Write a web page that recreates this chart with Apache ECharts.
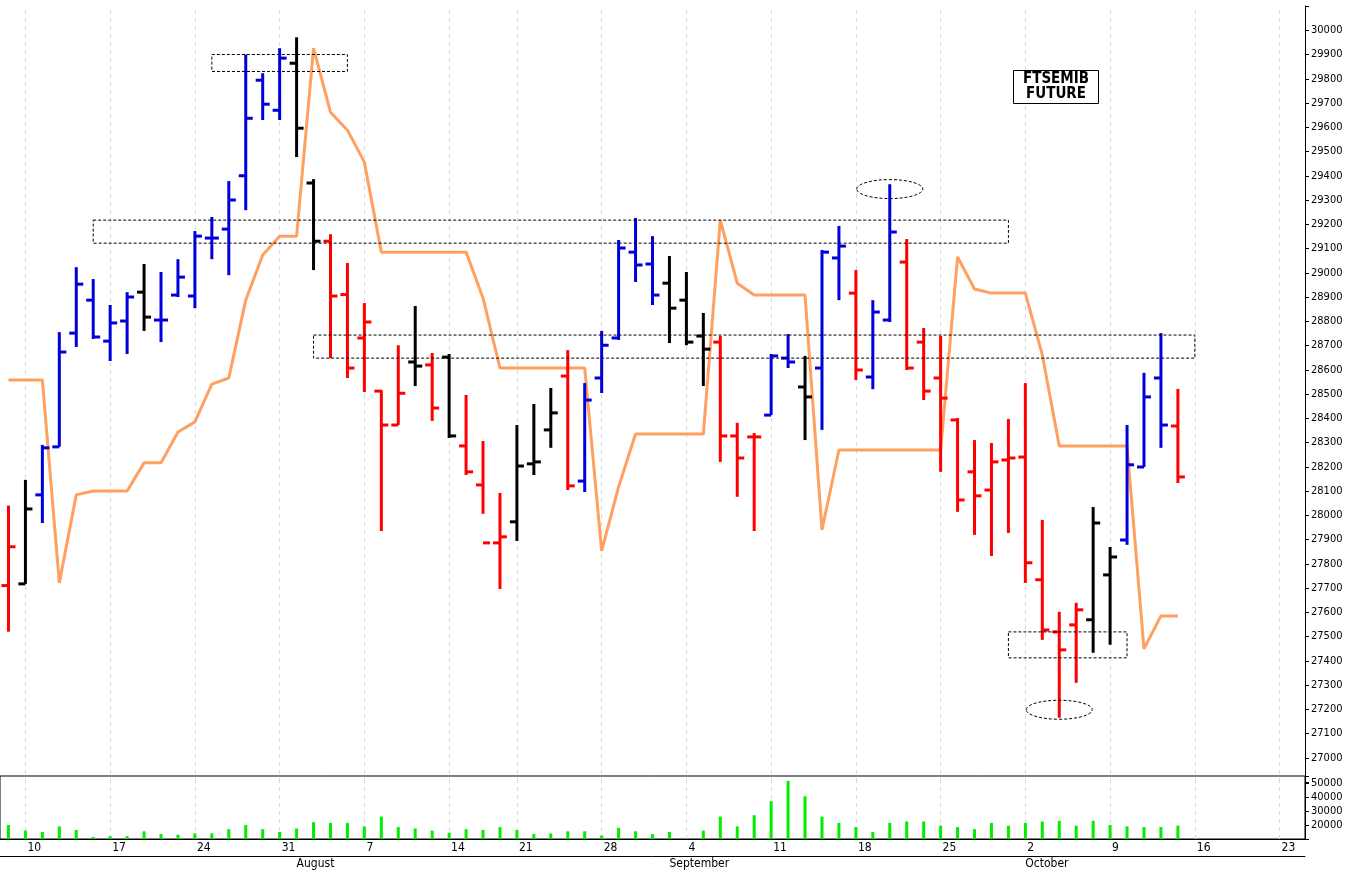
<!DOCTYPE html>
<html><head><meta charset="utf-8">
<script src="https://cdn.jsdelivr.net/npm/echarts@6/dist/echarts.min.js"></script>
<style>html,body{margin:0;padding:0;background:#fff}#c{width:1352px;height:870px}</style>
</head><body><div id="c"></div>
<script>
// trading days Jul 7 2023 .. Oct 24 2023 (Aug 15 closed)
const dates = [];
(function(){ let d = new Date(Date.UTC(2023,6,7)); const end = new Date(Date.UTC(2023,9,24));
  while (d <= end) { const w = d.getUTCDay(); const s = d.toISOString().slice(0,10);
    if (w !== 0 && w !== 6 && s !== '2023-08-15') dates.push(s); d = new Date(d.getTime()+86400000); } })();

const open  = [27710,27717,28084,28282,28751,28887,28718,28801,28920,28805,28908,28904,29143,29180,29400,29794,29670,29864,29370,29130,28910,28731,28512,28372,28632,28620,28652,28286,28125,27886,27973,28212,28352,28574,28141,28566,28731,29085,29036,28957,28887,28739,28714,28327,28323,28413,28648,28529,28607,29061,28916,28570,28805,29044,28714,28566,28393,28179,28104,28228,28240,27734,27519,27548,27569,27754,27898,28199,28566,28368];
const high  = [28040,28146,28290,28755,29023,28974,28867,28920,29036,29003,29056,29172,29230,29378,29900,29823,29926,29971,29386,29159,29040,28875,28516,28701,28863,28669,28665,28496,28306,28092,28372,28459,28525,28681,28545,28760,29135,29226,29151,29069,29003,28834,28739,28381,28339,28665,28747,28657,29094,29193,29011,28887,29365,29139,28772,28739,28401,28310,28298,28397,28545,27981,27602,27639,28034,27869,28372,28587,28751,28521];
const low   = [27520,27717,27968,28282,28694,28727,28636,28665,28760,28714,28900,28854,29056,28990,29258,29630,29630,29477,29011,28648,28566,28508,27935,28372,28533,28389,28319,28166,28006,27696,27894,28166,28278,28104,28096,28504,28723,28962,28867,28710,28701,28533,28220,28076,27935,28413,28607,28310,28352,28887,28558,28520,28797,28599,28475,28179,28014,27919,27832,27927,27721,27486,27165,27309,27433,27466,27878,28199,28278,28133];
const close = [27870,28026,28278,28673,28953,28735,28793,28900,28817,28805,28982,29151,29143,29300,29637,29695,29885,29596,29130,28904,28607,28797,28372,28503,28615,28442,28327,28179,27886,27911,28203,28220,28422,28121,28475,28701,29102,29032,28908,28854,28714,28685,28327,28236,28323,28657,28632,28488,29085,29110,28599,28838,29168,28607,28512,28483,28063,28080,28220,28236,27804,27527,27445,27610,27968,27828,28208,28488,28372,28158];
const barColor = ['r','k','b','b','b','b','b','b','k','b','b','b','b','b','b','b','b','k','k','r','r','r','r','r','k','r','k','r','r','r','k','k','k','r','b','b','b','b','b','k','k','k','r','r','r','b','b','k','b','b','r','b','b','r','r','r','r','r','r','r','r','r','r','r','k','k','b','b','b','r'];
const trendLine = [28558,28558,28558,27721,28084,28100,28100,28100,28216,28216,28343,28385,28541,28566,28887,29073,29151,29151,29926,29662,29588,29456,29085,29085,29085,29085,29085,29085,28896,28607,28607,28607,28607,28607,28607,27853,28117,28335,28335,28335,28335,28335,29217,28957,28908,28908,28908,28908,27940,28269,28269,28269,28269,28269,28269,28269,29065,28933,28916,28916,28916,28661,28286,28286,28286,28286,28286,27449,27585,27585];
const volume = [20000,16000,15000,19000,16500,11500,12000,12000,15500,13500,13000,14000,14000,17000,20000,17000,15000,17500,22000,21500,21500,19000,26000,18500,17500,16000,14500,17000,16500,18500,16500,13500,14000,15500,15500,12500,18000,15500,13500,15000,10500,16000,26000,19000,27000,37000,51500,40500,26000,21500,18500,15000,21500,22500,22500,19500,18500,17000,21500,19500,21500,22500,23000,19500,23000,20000,19000,18500,18500,19500];
// annotations: [startDate, endDate, valueTop, valueBottom]
const boxes = [['2023-07-25','2023-08-04',29900,29830],['2023-07-14','2023-09-29',29217,29122],['2023-08-02','2023-10-16',28743,28648],['2023-09-29','2023-10-10',27519,27412]];
const ovals = [['2023-09-20',29345],['2023-10-04',27198]];
const title = 'FTSEMIB\nFUTURE';

const colMap = {r:'#ff0000',k:'#000000',b:'#0000dd'};
const isMon = s => new Date(s+'T00:00:00Z').getUTCDay() === 1;
const monthStarts = ['2023-08-01','2023-09-01','2023-10-02'];
const monthNames = {'2023-08-01':'August','2023-09-01':'September','2023-10-02':'October'};
const mondays = dates.filter(isMon);
const ohlc = dates.slice(0, open.length).map((d,i)=>[i,open[i],high[i],low[i],close[i]]);
const FONT = 'DejaVu Sans Condensed';

const chart = echarts.init(document.getElementById('c'));
const gridMark = {silent:true, z:0, symbol:'none', label:{show:false}, lineStyle:{color:'#d8d8d8',type:[4,4],width:1}, data: mondays.map(m=>({xAxis:m}))};
chart.setOption({
  animation:false,
  graphic:[{type:'rect',left:1013,top:70,shape:{width:85,height:33},style:{fill:'#fff',stroke:'#000',lineWidth:1},z:10},
           {type:'text',x:1056,y:72,z:11,style:{text:title,font:'bold 15px '+FONT,fill:'#000',align:'center',lineHeight:15}}],
  grid:[{left:0,right:47,top:6,height:776,show:false},{left:0,right:47,top:776,height:64,show:true,borderColor:'#000',borderWidth:1}],
  xAxis:[
    {type:'category',gridIndex:0,data:dates,show:false},
    {type:'category',gridIndex:1,data:dates,axisLine:{lineStyle:{color:'#000'}},
      axisTick:{alignWithLabel:true,length:17,interval:(i,v)=>isMon(v),lineStyle:{color:'#000'}},
      axisLabel:{interval:(i,v)=>isMon(v),formatter:v=>String(+v.slice(8)),align:'left',margin:3,padding:[0,0,0,2],fontFamily:FONT,fontSize:12,color:'#000'}},
    {type:'category',gridIndex:1,data:dates,position:'bottom',offset:17,axisLine:{lineStyle:{color:'#000'}},
      axisTick:{alignWithLabel:true,length:14,interval:(i,v)=>monthStarts.includes(v),lineStyle:{color:'#000'}},
      axisLabel:{interval:(i,v)=>monthStarts.includes(v),formatter:v=>monthNames[v]||'',align:'left',margin:2,padding:[0,0,0,0],fontFamily:FONT,fontSize:12,color:'#000'}}
  ],
  yAxis:[
    {type:'value',gridIndex:0,position:'right',min:26900,max:30100,interval:100,splitLine:{show:false},
      axisLine:{show:true,lineStyle:{color:'#000'}},axisTick:{show:true,length:4,lineStyle:{color:'#000'}},
      axisLabel:{formatter:v=>(v<27000||v>30000)?'':String(v),fontFamily:FONT,fontSize:11,color:'#000',margin:6}},
    {type:'value',gridIndex:1,position:'right',min:10000,max:55000,interval:10000,splitLine:{show:false},
      axisLine:{show:true,lineStyle:{color:'#000'}},axisTick:{show:true,length:4,lineStyle:{color:'#000'}},
      axisLabel:{formatter:v=>(v<20000||v>50000)?'':String(v),fontFamily:FONT,fontSize:11,color:'#000',margin:6}}
  ],
  series:[
    {type:'line',xAxisIndex:0,yAxisIndex:0,data:[],markLine:gridMark,z:0},
    {type:'line',xAxisIndex:0,yAxisIndex:0,data:trendLine,showSymbol:false,lineStyle:{color:'#ffa060',width:3},itemStyle:{color:'#ffa060'},z:2},
    {type:'custom',xAxisIndex:0,yAxisIndex:0,data:ohlc,z:3,
      renderItem:(p,api)=>{const i=api.value(0);const x=api.coord([i,0])[0];
        const yo=api.coord([i,api.value(1)])[1],yh=api.coord([i,api.value(2)])[1],yl=api.coord([i,api.value(3)])[1],yc=api.coord([i,api.value(4)])[1];
        const c=colMap[barColor[i]];const st={stroke:c,lineWidth:3};
        return {type:'group',children:[
          {type:'line',shape:{x1:x,y1:yh,x2:x,y2:yl},style:st},
          {type:'line',shape:{x1:x-7,y1:yo,x2:x,y2:yo},style:st},
          {type:'line',shape:{x1:x,y1:yc,x2:x+7,y2:yc},style:st}]};}},
    {type:'custom',xAxisIndex:0,yAxisIndex:0,data:boxes,z:4,silent:true,
      renderItem:(p,api)=>{const b=boxes[p.dataIndex];const a=api.coord([b[0],b[2]]),c=api.coord([b[1],b[3]]);
        return {type:'rect',shape:{x:a[0],y:a[1],width:c[0]-a[0],height:c[1]-a[1]},style:{fill:null,stroke:'#000',lineWidth:1,lineDash:[3,2]}};}},
    {type:'custom',xAxisIndex:0,yAxisIndex:0,data:ovals,z:4,silent:true,
      renderItem:(p,api)=>{const o=ovals[p.dataIndex];const c=api.coord([o[0],o[1]]);
        return {type:'ellipse',shape:{cx:c[0],cy:c[1],rx:33,ry:9.5},style:{fill:null,stroke:'#000',lineWidth:1,lineDash:[3,2]}};}},
    {type:'line',xAxisIndex:1,yAxisIndex:1,data:[],markLine:gridMark,z:0},
    {type:'bar',xAxisIndex:1,yAxisIndex:1,data:volume,barWidth:3,itemStyle:{color:'#00ee00'},z:3}
  ]
});
</script></body></html>
